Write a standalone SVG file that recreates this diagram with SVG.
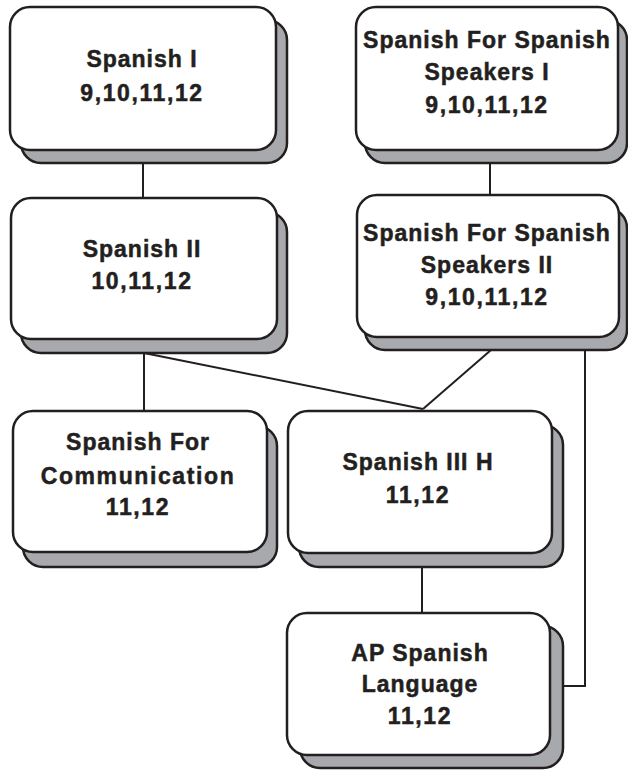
<svg xmlns="http://www.w3.org/2000/svg" width="628" height="770" viewBox="0 0 628 770">
<style>
.sh{fill:#a7a9ac;stroke:#231f20;stroke-width:2.5}
.fr{fill:#ffffff;stroke:#231f20;stroke-width:2.5}
.t{font-family:"Liberation Sans",Arial,sans-serif;font-weight:bold;font-size:23px;fill:#231f20;stroke:#231f20;stroke-width:0.5;text-anchor:middle;letter-spacing:1px}
.d{letter-spacing:1.6px}
.c{fill:none;stroke:#231f20;stroke-width:2}
</style>
<rect width="628" height="770" fill="#ffffff"/>
<g id="connectors">
<line class="c" x1="143" y1="163" x2="143" y2="198"/>
<line class="c" x1="490" y1="163" x2="490" y2="195"/>
<line class="c" x1="144" y1="353" x2="144" y2="411"/>
<line class="c" x1="144" y1="353" x2="423" y2="409"/>
<line class="c" x1="491" y1="350" x2="423" y2="409"/>
<line class="c" x1="422" y1="567" x2="422" y2="613"/>
<polyline class="c" points="585,350 585,686 563,686"/>
</g>
<g id="spanish1">
<rect class="sh" x="21" y="20" width="266" height="143" rx="20"/>
<rect class="fr" x="10" y="7" width="266" height="143" rx="20"/>
<text class="t" x="142" y="67">Spanish I</text>
<text class="t d" x="142" y="101">9,10,11,12</text>
</g>
<g id="sfss1">
<rect class="sh" x="365" y="20" width="262" height="143" rx="20"/>
<rect class="fr" x="356" y="7" width="262" height="143" rx="20"/>
<text class="t" x="487" y="48">Spanish For Spanish</text>
<text class="t" x="487" y="80">Speakers I</text>
<text class="t d" x="487" y="113">9,10,11,12</text>
</g>
<g id="spanish2">
<rect class="sh" x="21" y="212" width="266" height="141" rx="20"/>
<rect class="fr" x="11" y="198" width="266" height="141" rx="20"/>
<text class="t" x="142" y="257">Spanish II</text>
<text class="t d" x="142" y="289">10,11,12</text>
</g>
<g id="sfss2">
<rect class="sh" x="365" y="208" width="262" height="142" rx="20"/>
<rect class="fr" x="357" y="195" width="262" height="142" rx="20"/>
<text class="t" x="487" y="241">Spanish For Spanish</text>
<text class="t" x="487" y="273">Speakers II</text>
<text class="t d" x="487" y="305">9,10,11,12</text>
</g>
<g id="sfc">
<rect class="sh" x="23" y="426" width="254" height="141" rx="20"/>
<rect class="fr" x="13" y="411" width="254" height="141" rx="20"/>
<text class="t" x="138" y="450">Spanish For</text>
<text class="t" x="138" y="484" style="letter-spacing:1.6px">Communication</text>
<text class="t d" x="138" y="515">11,12</text>
</g>
<g id="spanish3h">
<rect class="sh" x="299" y="425" width="264" height="142" rx="20"/>
<rect class="fr" x="288" y="411" width="264" height="142" rx="20"/>
<text class="t" x="418" y="470">Spanish III H</text>
<text class="t d" x="418" y="503">11,12</text>
</g>
<g id="apspanish">
<rect class="sh" x="300" y="626" width="263" height="142" rx="20"/>
<rect class="fr" x="287" y="613" width="263" height="142" rx="20"/>
<text class="t" x="420" y="661">AP Spanish</text>
<text class="t" x="420" y="692">Language</text>
<text class="t d" x="420" y="724">11,12</text>
</g>
</svg>
